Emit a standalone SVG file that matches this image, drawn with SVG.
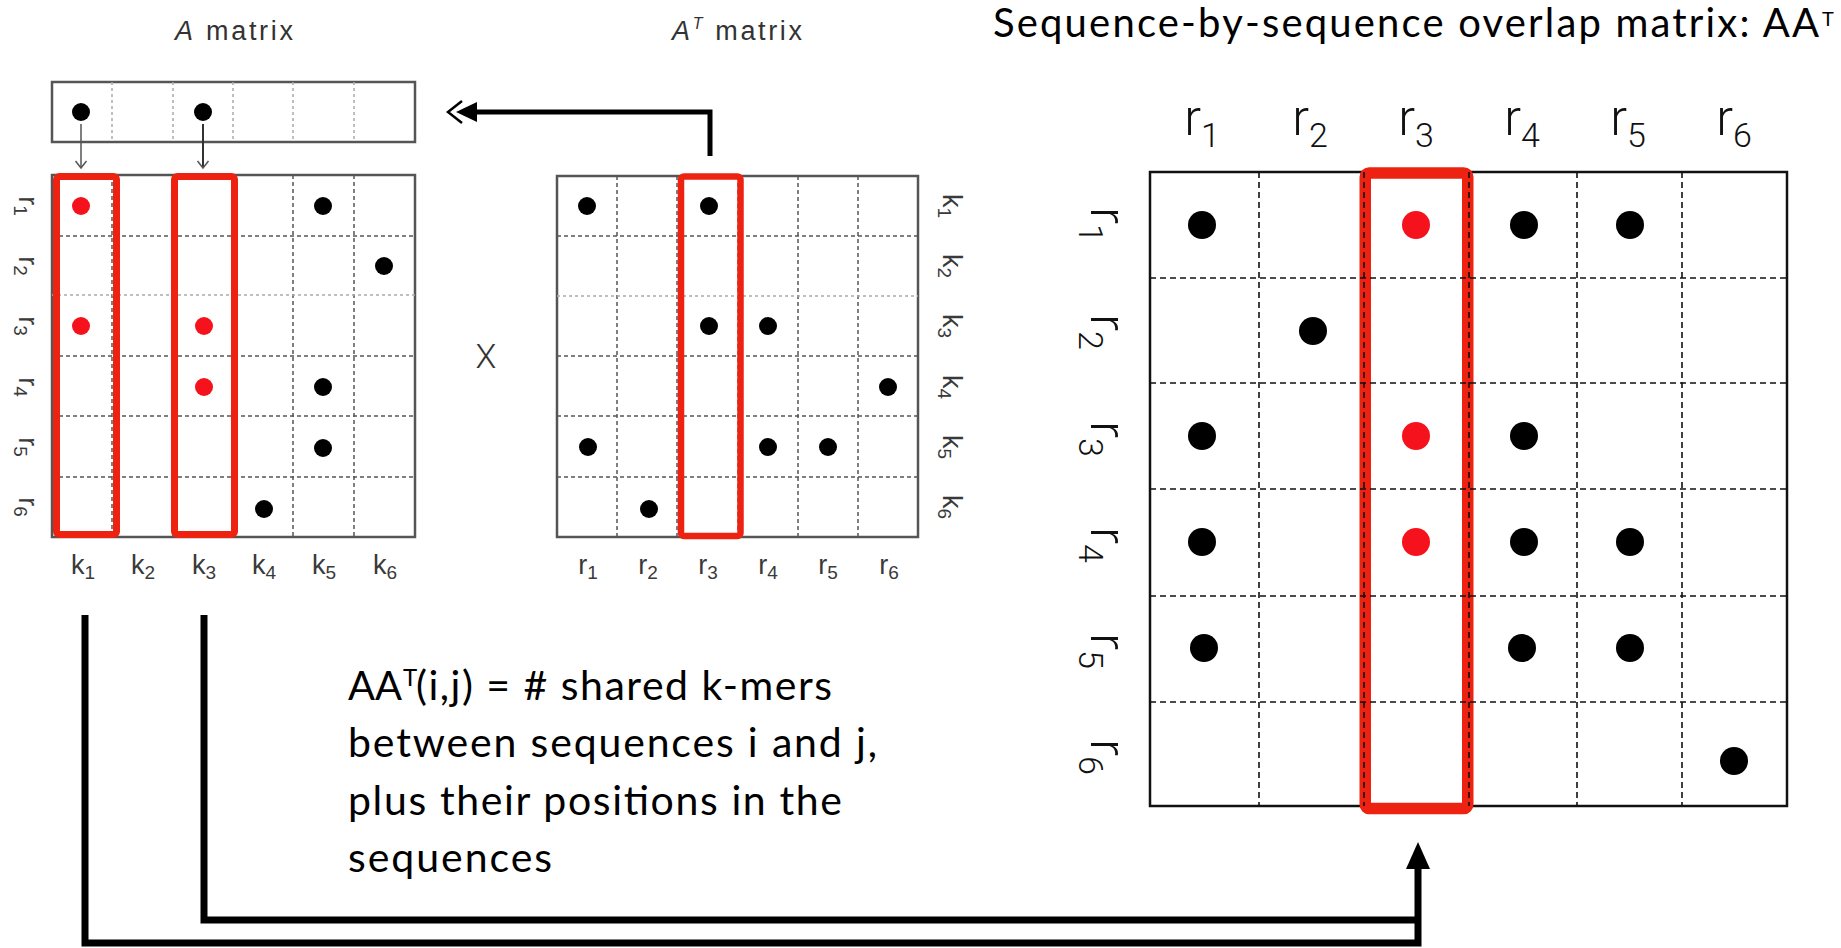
<svg xmlns="http://www.w3.org/2000/svg" width="1841" height="948" viewBox="0 0 1841 948">
  <defs>
    <style>
      .ttl { font-family: "Liberation Sans", Arial, sans-serif; font-size: 27px; fill: #333; }
      .lbl { font-family: "Liberation Sans", Arial, sans-serif; font-size: 27px; fill: #3a3a3a; }
      .sub { font-size: 19px; }
      .big { font-family: Roboto, "Liberation Sans", sans-serif; font-weight: 300; font-size: 50px; fill: #111; }
      .bsub { font-size: 34px; }
      .body { font-family: Lato, "Liberation Sans", sans-serif; font-size: 41px; fill: #000; }
      .frame-s { fill: none; stroke: #555; stroke-width: 2.5; }
      .grid-s { fill: none; stroke: #555; stroke-width: 1.5; stroke-dasharray: 4 3; }
      .grid-f { fill: none; stroke: #aaa; stroke-width: 1.5; stroke-dasharray: 3 3; }
      .frame-l { fill: none; stroke: #111; stroke-width: 2.5; }
      .grid-l { fill: none; stroke: #111; stroke-width: 1.6; stroke-dasharray: 6 4; }
      .hl { fill: none; stroke: #ee2211; stroke-linejoin: round; }
      .dot { fill: #000; }
      .rdot { fill: #f5121c; }
      .conn { fill: none; stroke: #000; stroke-width: 7; }
      .thin { fill: none; stroke: #555; stroke-width: 1.5; }
    </style>
    <marker id="chev" markerWidth="14" markerHeight="14" refX="10" refY="7" orient="auto" markerUnits="userSpaceOnUse">
      <path d="M3,1.5 L10,7 L3,12.5" fill="none" stroke="#555" stroke-width="1.5"/>
    </marker>
  </defs>

  <rect x="0" y="0" width="1841" height="948" fill="#fff"/>

  <!-- A matrix -->
  <g id="a-matrix">
    <text class="ttl" x="175" y="40" textLength="118" lengthAdjust="spacing"><tspan font-style="italic">A</tspan> matrix</text>

    <!-- single row picked out of A transpose -->
    <g id="a-row">
      <rect x="52" y="82" width="363" height="60" class="frame-s"/>
      <path class="grid-f" d="M112,82V142M173,82V142M233,82V142M293,82V142M354,82V142"/>
      <circle class="dot" cx="81" cy="112" r="9"/>
      <circle class="dot" cx="203" cy="112" r="9"/>
      <line class="thin" x1="81" y1="124" x2="81" y2="168" marker-end="url(#chev)"/>
      <line class="thin" x1="203" y1="124" x2="203" y2="168" marker-end="url(#chev)" style="stroke:#333;stroke-width:2"/>
    </g>

    <rect x="52" y="175" width="363" height="362" class="frame-s"/>
    <path class="grid-s" d="M112,175V537M173,175V537M233,175V537M293,175V537M354,175V537"/>
    <path class="grid-s" d="M52,236H415M52,356H415M52,416H415M52,477H415"/>
    <path class="grid-f" d="M52,295H415"/>

    <rect class="hl" x="56.5" y="176.5" width="60" height="358" rx="3" stroke-width="7"/>
    <rect class="hl" x="174.5" y="176.5" width="60" height="358" rx="3" stroke-width="7"/>

    <circle class="rdot" cx="81" cy="206" r="9"/>
    <circle class="rdot" cx="81" cy="326" r="9"/>
    <circle class="rdot" cx="204" cy="326" r="9"/>
    <circle class="rdot" cx="204" cy="387" r="9"/>
    <circle class="dot" cx="323" cy="206" r="9"/>
    <circle class="dot" cx="384" cy="266" r="9"/>
    <circle class="dot" cx="323" cy="387" r="9"/>
    <circle class="dot" cx="323" cy="448" r="9"/>
    <circle class="dot" cx="264" cy="509" r="9"/>

    <!-- row labels -->
    <g class="lbl" text-anchor="middle">
      <text transform="translate(19,206) rotate(90)">r<tspan class="sub" dy="5">1</tspan></text>
      <text transform="translate(19,266) rotate(90)">r<tspan class="sub" dy="5">2</tspan></text>
      <text transform="translate(19,326) rotate(90)">r<tspan class="sub" dy="5">3</tspan></text>
      <text transform="translate(19,387) rotate(90)">r<tspan class="sub" dy="5">4</tspan></text>
      <text transform="translate(19,447) rotate(90)">r<tspan class="sub" dy="5">5</tspan></text>
      <text transform="translate(19,507) rotate(90)">r<tspan class="sub" dy="5">6</tspan></text>
      <!-- column labels -->
      <text x="83" y="574">k<tspan class="sub" dy="5">1</tspan></text>
      <text x="143" y="574">k<tspan class="sub" dy="5">2</tspan></text>
      <text x="204" y="574">k<tspan class="sub" dy="5">3</tspan></text>
      <text x="264" y="574">k<tspan class="sub" dy="5">4</tspan></text>
      <text x="324" y="574">k<tspan class="sub" dy="5">5</tspan></text>
      <text x="385" y="574">k<tspan class="sub" dy="5">6</tspan></text>
    </g>
  </g>

  <text id="times" x="486" y="368" text-anchor="middle" style="font-family:Roboto,'Liberation Sans',sans-serif;font-weight:300;font-size:34px;fill:#333">X</text>

  <!-- A transpose matrix -->
  <g id="at-matrix">
    <text class="ttl" x="672" y="40" textLength="130" lengthAdjust="spacing"><tspan font-style="italic">A</tspan><tspan font-style="italic" font-size="16" dy="-11">T</tspan><tspan dy="11"> matrix</tspan></text>

    <rect x="557" y="176" width="361" height="361" class="frame-s"/>
    <path class="grid-s" d="M617,176V537M677,176V537M738,176V537M798,176V537M858,176V537"/>
    <path class="grid-s" d="M557,236H918M557,356H918M557,416H918M557,477H918"/>
    <path class="grid-f" d="M557,296H918"/>

    <rect class="hl" x="681" y="176.5" width="59.5" height="359.5" rx="3" stroke-width="6.5"/>

    <circle class="dot" cx="587" cy="206" r="9"/>
    <circle class="dot" cx="709" cy="206" r="9"/>
    <circle class="dot" cx="709" cy="326" r="9"/>
    <circle class="dot" cx="768" cy="326" r="9"/>
    <circle class="dot" cx="888" cy="387" r="9"/>
    <circle class="dot" cx="588" cy="447" r="9"/>
    <circle class="dot" cx="768" cy="447" r="9"/>
    <circle class="dot" cx="828" cy="447" r="9"/>
    <circle class="dot" cx="649" cy="509" r="9"/>

    <g class="lbl" text-anchor="middle">
      <text transform="translate(943,206) rotate(90)">k<tspan class="sub" dy="5">1</tspan></text>
      <text transform="translate(943,266) rotate(90)">k<tspan class="sub" dy="5">2</tspan></text>
      <text transform="translate(943,326) rotate(90)">k<tspan class="sub" dy="5">3</tspan></text>
      <text transform="translate(943,387) rotate(90)">k<tspan class="sub" dy="5">4</tspan></text>
      <text transform="translate(943,447) rotate(90)">k<tspan class="sub" dy="5">5</tspan></text>
      <text transform="translate(943,507) rotate(90)">k<tspan class="sub" dy="5">6</tspan></text>
      <text x="588" y="574">r<tspan class="sub" dy="5">1</tspan></text>
      <text x="648" y="574">r<tspan class="sub" dy="5">2</tspan></text>
      <text x="708" y="574">r<tspan class="sub" dy="5">3</tspan></text>
      <text x="768" y="574">r<tspan class="sub" dy="5">4</tspan></text>
      <text x="828" y="574">r<tspan class="sub" dy="5">5</tspan></text>
      <text x="889" y="574">r<tspan class="sub" dy="5">6</tspan></text>
    </g>
  </g>

  <!-- overlap matrix AA^T -->
  <g id="overlap-matrix">
    <text class="body" x="993" y="37" style="font-size:40px" textLength="826" lengthAdjust="spacing">Sequence-by-sequence overlap matrix: AA</text>
    <text class="body" x="1822" y="26" style="font-size:20px">T</text>

    <rect x="1150" y="172" width="637" height="634" fill="#fff" class="frame-l"/>
    <rect class="hl" x="1365.25" y="173" width="102.5" height="635.5" rx="4" stroke-width="11.5"/>
    <path class="grid-l" d="M1259,172V806M1364,172V806M1469,172V806M1577,172V806M1682,172V806"/>
    <path class="grid-l" d="M1150,278H1787M1150,383H1787M1150,489H1787M1150,596H1787M1150,702H1787"/>

    <circle class="dot" cx="1202" cy="225" r="14"/>
    <circle class="rdot" cx="1416" cy="225" r="14"/>
    <circle class="dot" cx="1524" cy="225" r="14"/>
    <circle class="dot" cx="1630" cy="225" r="14"/>
    <circle class="dot" cx="1313" cy="331" r="14"/>
    <circle class="dot" cx="1202" cy="436" r="14"/>
    <circle class="rdot" cx="1416" cy="436" r="14"/>
    <circle class="dot" cx="1524" cy="436" r="14"/>
    <circle class="dot" cx="1202" cy="542" r="14"/>
    <circle class="rdot" cx="1416" cy="542" r="14"/>
    <circle class="dot" cx="1524" cy="542" r="14"/>
    <circle class="dot" cx="1630" cy="542" r="14"/>
    <circle class="dot" cx="1204" cy="648" r="14"/>
    <circle class="dot" cx="1522" cy="648" r="14"/>
    <circle class="dot" cx="1630" cy="648" r="14"/>
    <circle class="dot" cx="1734" cy="761" r="14"/>

    <g class="big" text-anchor="middle">
      <text x="1202" y="135">r<tspan class="bsub" dy="12">1</tspan></text>
      <text x="1310" y="135">r<tspan class="bsub" dy="12">2</tspan></text>
      <text x="1416" y="135">r<tspan class="bsub" dy="12">3</tspan></text>
      <text x="1522" y="135">r<tspan class="bsub" dy="12">4</tspan></text>
      <text x="1628" y="135">r<tspan class="bsub" dy="12">5</tspan></text>
      <text x="1734" y="135">r<tspan class="bsub" dy="12">6</tspan></text>
      <text transform="translate(1091,225) rotate(90)">r<tspan class="bsub" dy="12">1</tspan></text>
      <text transform="translate(1091,332) rotate(90)">r<tspan class="bsub" dy="12">2</tspan></text>
      <text transform="translate(1091,439) rotate(90)">r<tspan class="bsub" dy="12">3</tspan></text>
      <text transform="translate(1091,545) rotate(90)">r<tspan class="bsub" dy="12">4</tspan></text>
      <text transform="translate(1091,651) rotate(90)">r<tspan class="bsub" dy="12">5</tspan></text>
      <text transform="translate(1091,757) rotate(90)">r<tspan class="bsub" dy="12">6</tspan></text>
    </g>
  </g>

  <!-- explanation -->
  <g id="note" class="body">
    <text x="348" y="700" textLength="54" lengthAdjust="spacingAndGlyphs">AA</text>
    <text x="403" y="686" style="font-size:24px">T</text>
    <text x="416" y="700" textLength="416" lengthAdjust="spacing">(i,j) = # shared k-mers</text>
    <text x="348" y="757" textLength="529" lengthAdjust="spacing">between sequences i and j,</text>
    <text x="348" y="815" textLength="494" lengthAdjust="spacing">plus their positions in the</text>
    <text x="348" y="872" textLength="204" lengthAdjust="spacing">sequences</text>
  </g>

  <!-- connectors -->
  <g id="connectors">
    <!-- A^T column r3 up to the row of A -->
    <path d="M710,156 V112 H472" fill="none" stroke="#000" stroke-width="5"/>
    <polygon points="456,112 477,102 477,122" fill="#000"/>
    <polyline points="462,101 448,112 462,123" fill="none" stroke="#000" stroke-width="2.5"/>

    <!-- k1 and k3 down and across to column r3 of AA^T -->
    <path class="conn" d="M85,615 V943 H1418 V866" stroke-linejoin="miter"/>
    <path class="conn" d="M204,615 V920 H1418" stroke-linejoin="miter"/>
    <polygon points="1418,842 1406,869 1430,869" fill="#000"/>
  </g>
</svg>
